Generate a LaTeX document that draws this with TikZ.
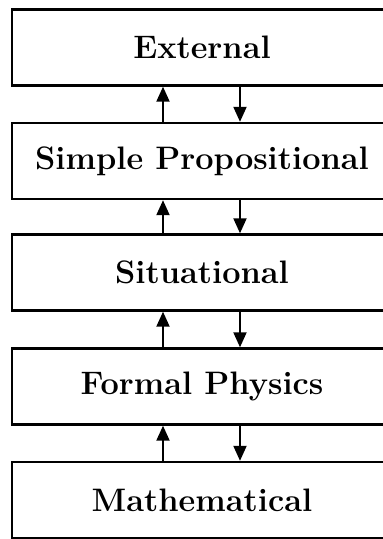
\documentclass[tikz,border=0pt]{standalone}
\usetikzlibrary{arrows.meta}
\begin{document}
\begin{tikzpicture}[x=1pt,y=-1pt,
  level/.style={draw,line width=2.4pt,minimum width=380pt,minimum height=76pt,
    inner sep=0pt,font=\fontsize{32.5}{38}\selectfont\bfseries},
  link/.style={line width=2pt,-{Triangle[length=15pt,width=13pt]}}]
\useasboundingbox (0,0) rectangle (383,539);
\clip (0,0) rectangle (383,539);
\node[level] (b1) at (202,47.5) {External};
\node[level] (b2) at (202,161) {Simple Propositional};
\node[level] (b3) at (202,272.5) {Situational};
\node[level] (b4) at (202,386.5) {Formal Physics};
\node[level] (b5) at (202,500) {Mathematical};
\foreach \a/\b in {b1/b2,b2/b3,b3/b4,b4/b5}{
  \draw[link] ([xshift=-39pt]\b.north) -- ([xshift=-39pt]\a.south);
  \draw[link] ([xshift=38pt]\a.south) -- ([xshift=38pt]\b.north);
}
\end{tikzpicture}
\end{document}
